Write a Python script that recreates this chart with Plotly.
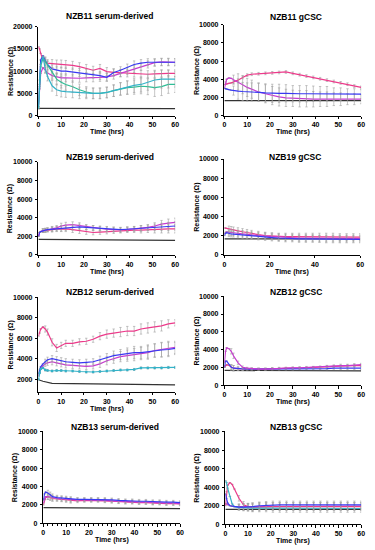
import plotly.graph_objects as go

# ---------------- data ----------------
T = [0, 0.5, 1, 2, 3, 4, 6, 8, 10, 12, 15, 18, 21, 24, 27, 30, 33, 36, 39, 42, 45, 48, 51, 54, 57, 60]

titles = ["NZB11 serum-derived", "NZB11 gCSC", "NZB19 serum-derived", "NZB19 gCSC",
          "NZB12 serum-derived", "NZB12 gCSC", "NZB13 serum-derived", "NZB13 gCSC"]

# NZB11 serum-derived
p1_pink = [15500, 15000, 14000, 12500, 12000, 11800, 11700, 11600, 11600, 11500, 11300, 11000, 10600, 10200, 10600, 9900, 9700, 9600, 9500, 9500, 9400, 9300, 9400, 9500, 9500, 9500]
p1_blue = [2000, 8000, 12500, 13500, 12500, 11500, 10500, 10200, 10000, 10000, 9800, 9700, 9500, 9300, 9000, 8600, 9700, 10200, 10800, 11500, 11800, 12000, 12000, 12000, 12100, 12000]
p1_violet = [2000, 6000, 9500, 10800, 10200, 9600, 9000, 8700, 8500, 8500, 8400, 8400, 8500, 8500, 8600, 8700, 9000, 9500, 10000, 10500, 11000, 11500, 11900, 12100, 12000, 12000]
p1_teal = [1500, 7000, 11500, 13300, 10500, 8800, 6700, 5800, 5500, 5400, 5300, 5100, 5000, 5000, 5000, 5200, 5600, 6000, 6300, 6800, 7000, 7500, 8000, 8200, 8200, 8200]
p1_green = [1500, 6500, 11000, 13000, 12200, 11200, 9600, 8200, 7500, 7000, 6500, 5800, 5300, 5000, 5000, 5200, 5600, 6000, 6300, 6400, 6600, 6500, 6300, 6500, 7000, 7000]
p1_err_a = [None, None, None, None, 700, 800, 900, 900, 900, 900, 900, 900, 900, 900, 900, 900, 800, 800, 800, 800, 800, 800, 800, 800, 800, 800]
p1_err_b = [None, None, None, None, 800, 1000, 1200, 1300, 1300, 1300, 1300, 1300, 1200, 1200, 1200, 1200, 1300, 1400, 1500, 1600, 1700, 1800, 2000, 2000, 2000, 1800]
p1_black_t = [0, 60]
p1_black = [1600, 1550]

# NZB11 gCSC
p2_pink = [3400, 3450, 3500, 3550, 3600, 3700, 3900, 4200, 4450, 4550, 4600, 4650, 4700, 4750, 4800, 4650, 4500, 4350, 4200, 4050, 3900, 3750, 3600, 3450, 3250, 3100]
p2_violet = [3000, 3700, 4000, 4150, 4100, 3950, 3700, 3400, 3100, 2900, 2600, 2400, 2200, 2050, 1950, 1900, 1850, 1850, 1800, 1800, 1800, 1800, 1800, 1800, 1800, 1800]
p2_blue = [3000, 2950, 2900, 2850, 2800, 2750, 2700, 2650, 2600, 2600, 2550, 2500, 2450, 2450, 2450, 2400, 2400, 2400, 2400, 2400, 2400, 2350, 2350, 2350, 2350, 2350]
p2_err_a = [None, None, None, None, None, 150, 150, 150, 150, 150, 150, 150, 150, 150, 150, 150, 150, 150, 150, 150, 150, 150, 150, 150, 150, 150]
p2_err_b = [None, None, None, None, None, 500, 900, 1000, 1000, 1000, 1000, 1000, 1000, 1000, 950, 900, 900, 900, 850, 800, 800, 700, 700, 600, 600, 500]
p2_black_t = [0, 60]
p2_black = [1650, 1650]

# NZB19 serum-derived
p3_pink = [2000, 2400, 2500, 2600, 2600, 2650, 2700, 2750, 2800, 2800, 2700, 2600, 2450, 2400, 2450, 2500, 2550, 2600, 2650, 2650, 2650, 2700, 2700, 2750, 2800, 2800]
p3_violet = [2000, 2400, 2500, 2600, 2650, 2700, 2800, 2900, 3100, 3200, 3250, 3150, 3000, 2900, 2800, 2750, 2700, 2700, 2750, 2800, 2850, 2950, 3100, 3300, 3400, 3500]
p3_blue = [2000, 2400, 2500, 2600, 2650, 2700, 2750, 2800, 2850, 2900, 2950, 3000, 2950, 2900, 2850, 2800, 2750, 2700, 2750, 2800, 2850, 2900, 2950, 3000, 3050, 3100]
p3_err = [None, None, None, 200, 200, 200, 250, 250, 300, 300, 300, 300, 250, 250, 250, 250, 250, 250, 250, 250, 300, 300, 350, 400, 450, 450]
p3_black_t = [0, 60]
p3_black = [1650, 1550]

# NZB19 gCSC
p4_pink = [2800, 2780, 2750, 2700, 2650, 2600, 2500, 2400, 2300, 2200, 2100, 2000, 1950, 1900, 1900, 1900, 1900, 1900, 1900, 1900, 1900, 1900, 1850, 1850, 1850, 1850]
p4_violet = [2200, 2350, 2400, 2350, 2320, 2300, 2250, 2200, 2100, 2050, 2000, 1950, 1900, 1850, 1800, 1800, 1750, 1750, 1750, 1700, 1700, 1700, 1700, 1700, 1700, 1700]
p4_blue = [2000, 2250, 2300, 2200, 2170, 2150, 2100, 2050, 2000, 1950, 1900, 1850, 1800, 1750, 1700, 1700, 1650, 1650, 1650, 1650, 1600, 1600, 1600, 1600, 1600, 1600]
p4_err = [None, None, None, 300, 300, 300, 320, 330, 340, 350, 350, 350, 350, 350, 350, 350, 350, 350, 350, 350, 350, 350, 350, 350, 350, 350]
p4_black_t = [0, 60]
p4_black = [1650, 1650]

# NZB12 serum-derived
p5_pink = [6200, 6500, 6900, 7100, 6900, 6600, 5600, 5050, 5300, 5500, 5500, 5650, 5700, 5900, 6200, 6400, 6500, 6600, 6700, 6700, 6900, 7000, 7100, 7200, 7400, 7500]
p5_blue = [2500, 2900, 3200, 3500, 3700, 3900, 4000, 3900, 3800, 3700, 3650, 3600, 3650, 3700, 3900, 4100, 4300, 4400, 4500, 4600, 4600, 4700, 4800, 4850, 4900, 5000]
p5_violet = [2300, 2700, 3000, 3300, 3500, 3600, 3700, 3600, 3500, 3400, 3350, 3300, 3250, 3300, 3500, 3800, 4000, 4200, 4300, 4400, 4500, 4600, 4800, 4900, 5000, 5100]
p5_teal = [2000, 2600, 3000, 3100, 2900, 2850, 2800, 2850, 2850, 2800, 2800, 2750, 2700, 2700, 2750, 2800, 2850, 2900, 2900, 2950, 3100, 3100, 3100, 3100, 3150, 3150]
p5_err_a = [None, None, None, None, 300, 300, 350, 350, 300, 300, 300, 300, 300, 300, 350, 400, 400, 450, 450, 450, 500, 500, 500, 500, 400, 300]
p5_err_b = [None, None, None, None, 250, 250, 300, 300, 300, 300, 300, 300, 300, 300, 350, 400, 450, 500, 550, 600, 600, 650, 650, 700, 700, 600]
p5_err_c = [None, None, None, None, 100, 100, 100, 100, 100, 100, 100, 100, 100, 100, 100, 100, 100, 100, 100, 100, 100, 100, 100, 100, 100, 100]
p5_black_t = [0, 2, 6, 20, 60]
p5_black = [1950, 1800, 1600, 1550, 1450]

# NZB12 gCSC
p6_violet = [2500, 3800, 4200, 4100, 3800, 3300, 2500, 2000, 1900, 1850, 1800, 1800, 1850, 1900, 1900, 1950, 1950, 2000, 2000, 2050, 2100, 2150, 2200, 2200, 2250, 2300]
p6_blue = [2000, 2700, 2700, 2300, 2000, 1900, 1850, 1800, 1800, 1800, 1800, 1800, 1800, 1800, 1800, 1800, 1850, 1850, 1850, 1850, 1850, 1900, 1900, 1900, 1900, 1900]
p6_pink = [2000, 2200, 2300, 2200, 2000, 1900, 1850, 1800, 1800, 1800, 1800, 1800, 1850, 1850, 1900, 1900, 1950, 1950, 2000, 2000, 2050, 2100, 2100, 2150, 2200, 2200]
p6_err = [None, None, None, None, 300, 300, 200, 150, 100, 100, 100, 100, 100, 100, 100, 100, 100, 100, 100, 100, 120, 120, 150, 150, 150, 150]
p6_black_t = [0, 60]
p6_black = [1650, 1600]

# NZB13 serum-derived
p7_blue = [2500, 3200, 3400, 3300, 3100, 2900, 2800, 2750, 2700, 2650, 2600, 2600, 2600, 2600, 2600, 2550, 2500, 2450, 2450, 2400, 2400, 2350, 2350, 2300, 2300, 2250]
p7_pink = [2000, 2600, 2800, 2900, 2800, 2700, 2650, 2600, 2550, 2450, 2450, 2500, 2500, 2500, 2450, 2400, 2350, 2300, 2300, 2250, 2250, 2200, 2200, 2150, 2150, 2100]
p7_violet = [2200, 2700, 2900, 2900, 2850, 2750, 2700, 2650, 2600, 2550, 2550, 2550, 2550, 2550, 2500, 2450, 2400, 2350, 2350, 2300, 2300, 2250, 2250, 2200, 2200, 2150]
p7_err = [None, None, None, 300, 300, 300, 250, 250, 250, 250, 200, 200, 200, 200, 200, 200, 200, 200, 200, 200, 200, 200, 200, 200, 200, 200]
p7_black_t = [0, 60]
p7_black = [1700, 1600]

# NZB13 gCSC
p8_pink = [2000, 3500, 4200, 4500, 4300, 3800, 2800, 2100, 1900, 1800, 1850, 1900, 1900, 1900, 1900, 1900, 1900, 1900, 1900, 1900, 1900, 1900, 1900, 1900, 1900, 1900]
p8_teal = [4700, 4500, 3900, 3000, 2200, 1900, 1800, 1800, 1750, 1750, 1750, 1750, 1700, 1700, 1700, 1700, 1700, 1700, 1700, 1700, 1700, 1700, 1700, 1700, 1700, 1700]
p8_blue = [3300, 2800, 2300, 2000, 1950, 1900, 1850, 1850, 1850, 1900, 2000, 2050, 2100, 2100, 2100, 2100, 2100, 2100, 2100, 2100, 2100, 2100, 2100, 2100, 2100, 2100]
p8_violet = [2200, 2200, 2100, 2000, 1950, 1900, 1900, 1900, 1900, 1900, 1950, 1950, 1950, 1950, 1950, 1950, 1950, 1950, 1950, 1950, 1950, 1950, 1950, 1950, 1950, 1950]
p8_err = [None, None, None, None, None, None, 300, 350, 350, 400, 400, 400, 400, 400, 400, 400, 400, 400, 400, 400, 400, 400, 400, 400, 400, 400]
p8_black_t = [0, 60]
p8_black = [1600, 1600]

x_ticks_10 = [0, 10, 20, 30, 40, 50, 60]
x_ticks_20 = [0, 20, 40, 60]
y_ticks_20k = [0, 5000, 10000, 15000, 20000]
y_ticks_10k = [0, 2000, 4000, 6000, 8000, 10000]
y_ticks_10k_no0 = [2000, 4000, 6000, 8000, 10000]

# ---------------- styling ----------------
PINK = "#EC3A8A"
BLUE = "#3838F2"
VIOLET = "#C63BCF"
TEAL = "#33B2C8"
GREEN = "#2FBE96"
BLACK = "#333333"
ERRC = "#A0A0A0"
FONT = "Liberation Sans, Arial, sans-serif"

W, H = 375, 550
# panel boxes in pixels: (x0, x1, y_top, y_bottom, y_range, yticks, xticks)
boxes = [
    (37, 176, 23, 113, [0, 20000], y_ticks_20k, x_ticks_10),
    (226, 365, 21, 113, [0, 10000], y_ticks_10k, x_ticks_10),
    (37, 176, 160, 254, [0, 10000], y_ticks_10k, x_ticks_10),
    (226, 364, 157, 254, [0, 10000], y_ticks_10k, x_ticks_20),
    (37, 176, 297, 393, [750, 10000], y_ticks_10k_no0, x_ticks_10),
    (226, 365, 296, 386, [0, 10000], y_ticks_10k, x_ticks_10),
    (42, 181, 433, 526, [0, 10000], y_ticks_10k, x_ticks_10),
    (227, 365, 433, 527, [0, 10000], y_ticks_10k, x_ticks_10),
]
title_y = [12, 13, 155, 155, 292, 292, 428, 428]

panels = [
    [(p1_pink, PINK, p1_err_a), (p1_violet, VIOLET, p1_err_a), (p1_blue, BLUE, p1_err_a),
     (p1_green, GREEN, p1_err_b), (p1_teal, TEAL, p1_err_b)],
    [(p2_pink, PINK, p2_err_a), (p2_violet, VIOLET, p2_err_b), (p2_blue, BLUE, p2_err_b)],
    [(p3_pink, PINK, p3_err), (p3_violet, VIOLET, p3_err), (p3_blue, BLUE, p3_err)],
    [(p4_pink, PINK, p4_err), (p4_violet, VIOLET, p4_err), (p4_blue, BLUE, p4_err)],
    [(p5_pink, PINK, p5_err_a), (p5_violet, VIOLET, p5_err_b), (p5_blue, BLUE, p5_err_b),
     (p5_teal, TEAL, p5_err_c)],
    [(p6_pink, PINK, p6_err), (p6_blue, BLUE, p6_err), (p6_violet, VIOLET, p6_err)],
    [(p7_pink, PINK, p7_err), (p7_violet, VIOLET, p7_err), (p7_blue, BLUE, p7_err)],
    [(p8_violet, VIOLET, p8_err), (p8_pink, PINK, p8_err), (p8_teal, TEAL, p8_err), (p8_blue, BLUE, p8_err)],
]
blacks = [(p1_black_t, p1_black), (p2_black_t, p2_black), (p3_black_t, p3_black), (p4_black_t, p4_black),
          (p5_black_t, p5_black), (p6_black_t, p6_black), (p7_black_t, p7_black), (p8_black_t, p8_black)]

fig = go.Figure()
annotations = []
layout = {}

for i, (box, series, blk) in enumerate(zip(boxes, panels, blacks)):
    n = i + 1
    x0, x1, yt, yb, yr, yticks, xticks = box
    xa = "x" if n == 1 else f"x{n}"
    ya = "y" if n == 1 else f"y{n}"
    xkey = "xaxis" if n == 1 else f"xaxis{n}"
    ykey = "yaxis" if n == 1 else f"yaxis{n}"

    # black baseline
    fig.add_trace(go.Scatter(x=blk[0], y=blk[1], mode="lines", xaxis=xa, yaxis=ya,
                             line=dict(color=BLACK, width=1.2), showlegend=False, hoverinfo="skip"))
    for vals, col, err in series:
        mode = "lines+markers" if (n == 5 and col == TEAL) else "lines"
        fig.add_trace(go.Scatter(
            x=T, y=vals, mode=mode, xaxis=xa, yaxis=ya,
            line=dict(color=col, width=1.2),
            marker=dict(size=2.5, color=col),
            error_y=dict(type="data", array=err, visible=True, color=ERRC, thickness=0.6, width=1.2),
            showlegend=False))

    tf = dict(family=FONT, size=7, color="black", weight="bold")
    layout[xkey] = dict(
        domain=[x0 / W, x1 / W], anchor=ya, range=[0, 60],
        tickvals=xticks, ticktext=[str(v) for v in xticks],
        showline=True, linecolor="black", linewidth=1, ticks="outside", ticklen=2.5,
        tickwidth=1, tickcolor="black", showgrid=False, zeroline=False,
        tickfont=tf, ticklabelstandoff=0)
    if n in (7, 8):
        layout[xkey]["minor"] = dict(ticks="outside", dtick=2, ticklen=1.5, tickcolor="black", showgrid=False)
    layout[ykey] = dict(
        domain=[1 - yb / H, 1 - yt / H], anchor=xa, range=yr,
        tickvals=yticks, ticktext=[str(v) for v in yticks],
        showline=True, linecolor="black", linewidth=1, ticks="outside", ticklen=2.5,
        tickwidth=1, tickcolor="black", showgrid=False, zeroline=False,
        tickfont=tf, ticklabelstandoff=1)

    cx = (x0 + x1) / 2
    annotations.append(dict(text=f"<b>{titles[i]}</b>", x=(cx + 3) / W, y=1 - title_y[i] / H,
                            xref="paper", yref="paper", showarrow=False, xanchor="center", yanchor="middle",
                            font=dict(family=FONT, size=8.5, color="black")))
    annotations.append(dict(text="<b>Time (hrs)</b>", x=cx / W, y=1 - (yb + 17) / H,
                            xref="paper", yref="paper", showarrow=False, xanchor="center", yanchor="middle",
                            font=dict(family=FONT, size=7, color="black")))
    ax_x = 9 if x0 < 100 else 198
    if n == 7:
        ax_x = 14
    annotations.append(dict(text="<b>Resistance (Ω)</b>", x=ax_x / W, y=1 - ((yt + yb) / 2) / H,
                            xref="paper", yref="paper", showarrow=False, xanchor="center", yanchor="middle",
                            textangle=-90, font=dict(family=FONT, size=7, color="black")))

fig.update_layout(
    width=W, height=H, margin=dict(l=0, r=0, t=0, b=0),
    paper_bgcolor="white", plot_bgcolor="white", showlegend=False,
    annotations=annotations, **layout)

fig.write_html("out.html", config={"displayModeBar": False},
               post_script="document.body.style.margin='0';")
